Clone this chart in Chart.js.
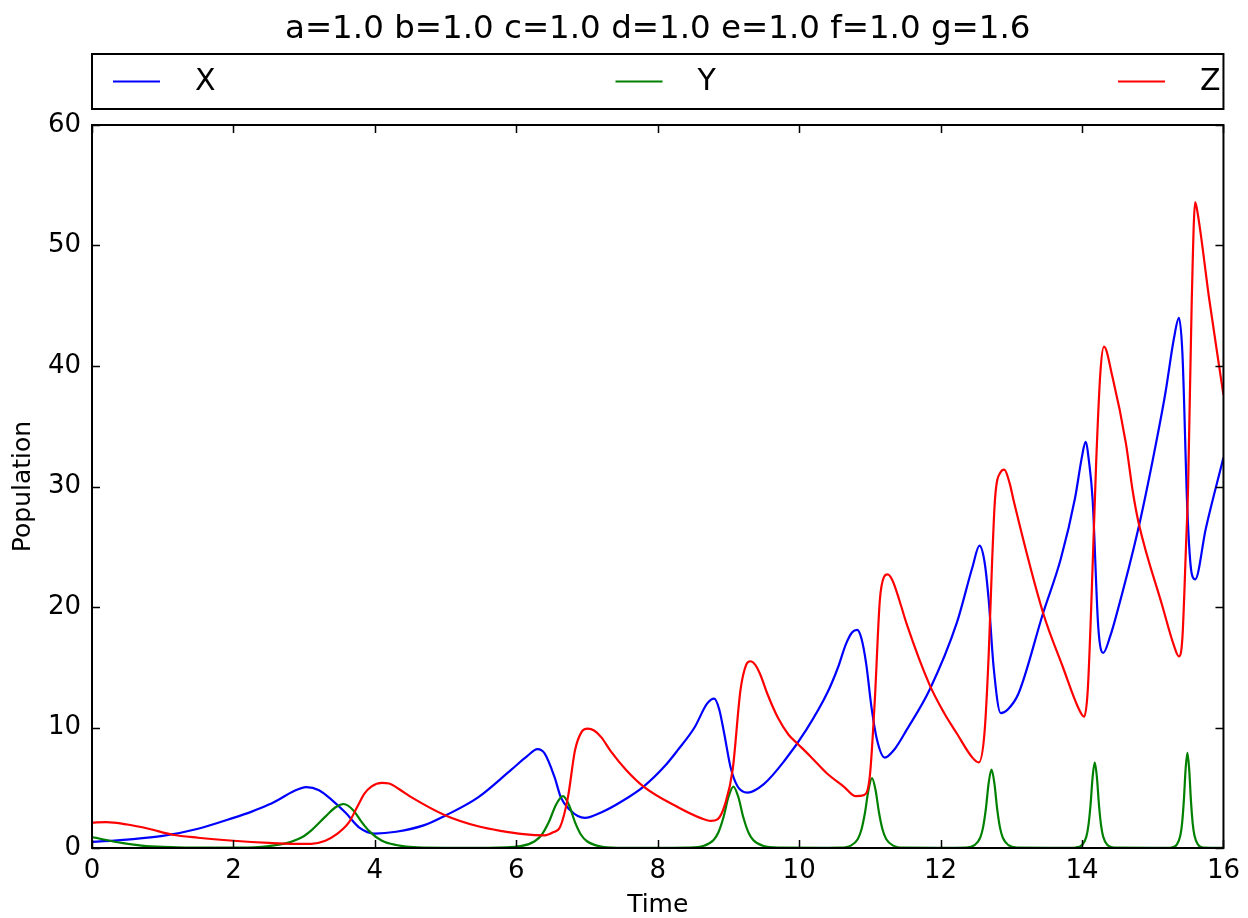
<!DOCTYPE html>
<html><head><meta charset="utf-8">
<script src="https://cdn.jsdelivr.net/npm/chart.js@4.4.1/dist/chart.umd.min.js"></script>
<style>html,body{margin:0;padding:0;background:#fff;}#wrap{width:1248px;height:918px;}</style>
</head><body><div id="wrap"><canvas id="c" width="1248" height="918"></canvas></div>
<script>
const titleText = 'a=1.0 b=1.0 c=1.0 d=1.0 e=1.0 f=1.0 g=1.6';
const seriesNames = ['X', 'Y', 'Z'];
const seriesColors = ['#0000ff', '#008000', '#ff0000'];
const xTicks = [0, 2, 4, 6, 8, 10, 12, 14, 16];
const yTicks = [0, 10, 20, 30, 40, 50, 60];
const xLabel = 'Time';
const yLabel = 'Population';

const tX = [0,0.5,1,1.5,2,2.25,2.5,2.65,2.83,3.03,3.21,3.39,3.59,3.78,4,4.3,4.7,5,5.46,5.93,6.15,6.3,6.4,6.54,6.63,6.76,6.87,6.97,7.2,7.5,7.8,8.1,8.28,8.52,8.7,8.8,8.87,8.94,9.03,9.13,9.27,9.5,9.8,10.1,10.4,10.55,10.66,10.75,10.82,10.88,10.95,11.02,11.1,11.21,11.35,11.52,11.85,12.23,12.45,12.55,12.62,12.68,12.75,12.85,12.95,13.1,13.45,13.7,13.9,14.0,14.05,14.1,14.15,14.23,14.3,14.4,14.48,14.8,15.0,15.18,15.3,15.37,15.42,15.49,15.55,15.6,15.75,16];
const vX = [0.5,0.7,1.0,1.6,2.5,3.0,3.6,4.05,4.65,5.05,4.8,4.0,2.9,1.7,1.2,1.35,1.9,2.7,4.2,6.5,7.6,8.2,7.85,5.9,4.2,3.15,2.65,2.5,2.95,3.9,5.1,6.8,8.1,10.0,12.0,12.4,11.5,9.5,6.7,5.1,4.6,5.3,7.3,9.8,12.9,15.0,16.9,17.9,18.1,17.4,15.2,11.8,9.0,7.5,8.2,9.8,13.2,18.7,23.3,25.1,23.8,20.6,15.0,11.2,11.5,12.8,19.5,24.0,29.0,32.5,33.7,32.0,28.9,18.3,16.2,17.6,19.2,26.6,32.2,37.8,42.3,44.0,41.0,28.0,22.8,22.3,26.5,32.4];

const tY = [0,0.44,0.77,1.2,1.8,2.3,2.5,2.75,2.9,3.0,3.11,3.3,3.45,3.56,3.7,3.82,3.92,4.1,4.3,4.6,
  5.0,5.6,6.06,6.26,6.36,6.46,6.56,6.66,6.745,6.83,6.915,7.0,7.17,7.43,
  8.2,8.44,8.65,8.79,8.86,8.93,9.0,9.07,9.14,9.21,9.28,9.35,9.49,9.7,
  10.4,10.58,10.73,10.83,10.88,10.93,10.98,11.03,11.08,11.13,11.18,11.23,11.33,11.48,
  12.2,12.36,12.48,12.56,12.6,12.64,12.68,12.72,12.76,12.8,12.84,12.88,12.96,13.08,
  13.8,13.91,14.0,14.06,14.09,14.12,14.15,14.18,14.21,14.24,14.27,14.3,14.36,14.45,
  15.2,15.265,15.34,15.39,15.415,15.44,15.465,15.49,15.515,15.54,15.565,15.59,15.64,15.715,16];
const vY = [0.9,0.4,0.15,0.06,0.03,0.06,0.15,0.4,0.7,1.0,1.5,2.6,3.4,3.65,3.1,2.1,1.4,0.6,0.25,0.05,
  0.02,0.02,0.15,0.56,1.1,2.15,3.57,4.3,3.57,2.15,1.1,0.56,0.15,0.02,
  0.02,0.03,0.18,0.66,1.33,2.55,4.23,5.1,4.23,2.55,1.33,0.66,0.18,0.03,
  0.02,0.03,0.2,0.75,1.51,2.9,4.81,5.8,4.81,2.9,1.51,0.75,0.2,0.03,
  0.02,0.03,0.23,0.85,1.69,3.25,5.4,6.5,5.4,3.25,1.69,0.85,0.23,0.03,
  0.02,0.04,0.25,0.92,1.85,3.55,5.9,7.1,5.9,3.55,1.85,0.92,0.25,0.04,
  0.02,0.04,0.28,1.03,2.05,3.95,6.56,7.9,6.56,3.95,2.05,1.03,0.28,0.04,0.02];

const tZ = [0,0.2,0.5,0.8,1.14,1.5,2.0,2.5,2.83,3.1,3.3,3.45,3.63,3.75,3.85,3.95,4.1,4.2,4.34,4.52,5.0,5.46,5.8,6.1,6.4,6.52,6.62,6.73,6.83,6.92,7.01,7.1,7.2,7.34,7.55,7.8,8.28,8.6,8.75,8.85,8.95,9.06,9.17,9.25,9.31,9.38,9.45,9.55,9.7,9.85,9.97,10.16,10.39,10.63,10.8,10.92,11.0,11.07,11.14,11.2,11.25,11.32,11.42,11.52,11.84,12.05,12.23,12.45,12.54,12.62,12.68,12.73,12.77,12.85,12.9,12.98,13.03,13.45,13.73,13.95,14.03,14.08,14.13,14.2,14.26,14.31,14.43,14.62,14.72,14.8,15.14,15.3,15.37,15.42,15.47,15.5,15.55,15.6,15.64,15.8,16];
const vZ = [2.1,2.15,1.95,1.6,1.1,0.85,0.6,0.42,0.35,0.35,0.6,1.1,2.1,3.4,4.5,5.1,5.4,5.35,4.9,4.2,2.7,1.8,1.4,1.15,1.05,1.3,1.75,4.2,8.1,9.6,9.9,9.75,9.2,8.0,6.5,5.1,3.4,2.5,2.25,2.4,3.6,6.5,13.1,15.2,15.5,15.2,14.4,12.8,10.8,9.4,8.7,7.6,6.2,5.1,4.3,4.4,6.0,12.3,20.5,22.5,22.7,22.2,20.5,18.6,13.6,11.2,9.5,7.5,7.1,9.5,16,24,29,31.2,31.4,30.2,28.9,19.5,15.0,11.6,10.9,13,20,32,39.5,41.6,39.1,33.6,29.5,27.0,20,16.8,15.9,17.5,25,30,45,53.6,52.5,45.5,37.6];

const FONT = 'DejaVu Sans';
const pts = (ts, vs) => ts.map((t, i) => ({x: t, y: vs[i]}));

const frameTicks = {
  id: 'frameTicks',
  afterDraw(chart) {
    const {ctx, chartArea: a, scales: {x, y}} = chart;
    ctx.save();
    ctx.strokeStyle = '#000';
    ctx.lineWidth = 1.5;
    const L = 8;
    ctx.beginPath();
    x.ticks.forEach(t => {
      const px = Math.round(x.getPixelForValue(t.value)) + 0.5;
      ctx.moveTo(px, a.bottom); ctx.lineTo(px, a.bottom - L);
      ctx.moveTo(px, a.top); ctx.lineTo(px, a.top + L);
    });
    y.ticks.forEach(t => {
      const py = Math.round(y.getPixelForValue(t.value)) + 0.5;
      ctx.moveTo(a.left, py); ctx.lineTo(a.left + L, py);
      ctx.moveTo(a.right, py); ctx.lineTo(a.right - L, py);
    });
    ctx.stroke();
    ctx.lineWidth = 2;
    ctx.strokeRect(a.left, a.top, a.right - a.left, a.bottom - a.top);
    ctx.restore();
  }
};

const boxLegend = {
  id: 'boxLegend',
  afterDraw(chart) {
    const {ctx, chartArea: a} = chart;
    const top = a.top - 71, bottom = a.top - 16;
    ctx.save();
    ctx.strokeStyle = '#000';
    ctx.lineWidth = 2;
    ctx.strokeRect(a.left, top, a.right - a.left, bottom - top);
    const cy = (top + bottom) / 2;
    const step = 502.5;
    ctx.font = '30px "' + FONT + '"';
    ctx.textBaseline = 'middle';
    ctx.textAlign = 'left';
    chart.data.datasets.forEach((ds, i) => {
      const x0 = a.left + 21 + i * step;
      ctx.strokeStyle = ds.borderColor;
      ctx.lineWidth = 2.2;
      ctx.beginPath(); ctx.moveTo(x0, cy); ctx.lineTo(x0 + 47, cy); ctx.stroke();
      ctx.fillStyle = '#000';
      ctx.fillText(ds.label, x0 + 82, cy + 1);
    });
    ctx.restore();
  }
};

const data = {
  datasets: [
    {label: seriesNames[0], data: pts(tX, vX), borderColor: seriesColors[0], order: 2},
    {label: seriesNames[1], data: pts(tY, vY), borderColor: seriesColors[1], order: 1},
    {label: seriesNames[2], data: pts(tZ, vZ), borderColor: seriesColors[2], order: 0}
  ].map(d => Object.assign(d, {borderWidth: 2.2, pointRadius: 0, fill: false, cubicInterpolationMode: 'monotone'}))
};

new Chart(document.getElementById('c'), {
  type: 'line',
  data,
  options: {
    responsive: false,
    animation: false,
    devicePixelRatio: 1,
    layout: {padding: {left: 0, right: 20, top: 0, bottom: 0}},
    plugins: {
      legend: {display: false},
      tooltip: {enabled: false},
      title: {display: true, fullSize: false, text: titleText, color: '#000',
        font: {family: FONT, size: 32.5, weight: 'normal'}, padding: {top: 9.7, bottom: 76.3}}
    },
    scales: {
      x: {
        type: 'linear', min: 0, max: 16,
        afterBuildTicks: s => { s.ticks = xTicks.map(v => ({value: v})); },
        afterFit: s => { s.height = 70; },
        grid: {display: false, drawTicks: false},
        border: {display: false},
        ticks: {color: '#000', font: {family: FONT, size: 26}, padding: 8, maxRotation: 0, autoSkip: false},
        title: {display: true, text: xLabel, color: '#000', font: {family: FONT, size: 25, lineHeight: 1}, padding: 0}
      },
      y: {
        type: 'linear', min: 0, max: 60,
        afterBuildTicks: s => { s.ticks = yTicks.map(v => ({value: v})); },
        afterFit: s => { s.width = 92; },
        grid: {display: false, drawTicks: false},
        border: {display: false},
        ticks: {color: '#000', font: {family: FONT, size: 26}, padding: 11, autoSkip: false},
        title: {display: true, text: yLabel, color: '#000', font: {family: FONT, size: 25, lineHeight: 1.2}, padding: {top: 8, bottom: 0}}
      }
    }
  },
  plugins: [frameTicks, boxLegend]
});
</script></body></html>
